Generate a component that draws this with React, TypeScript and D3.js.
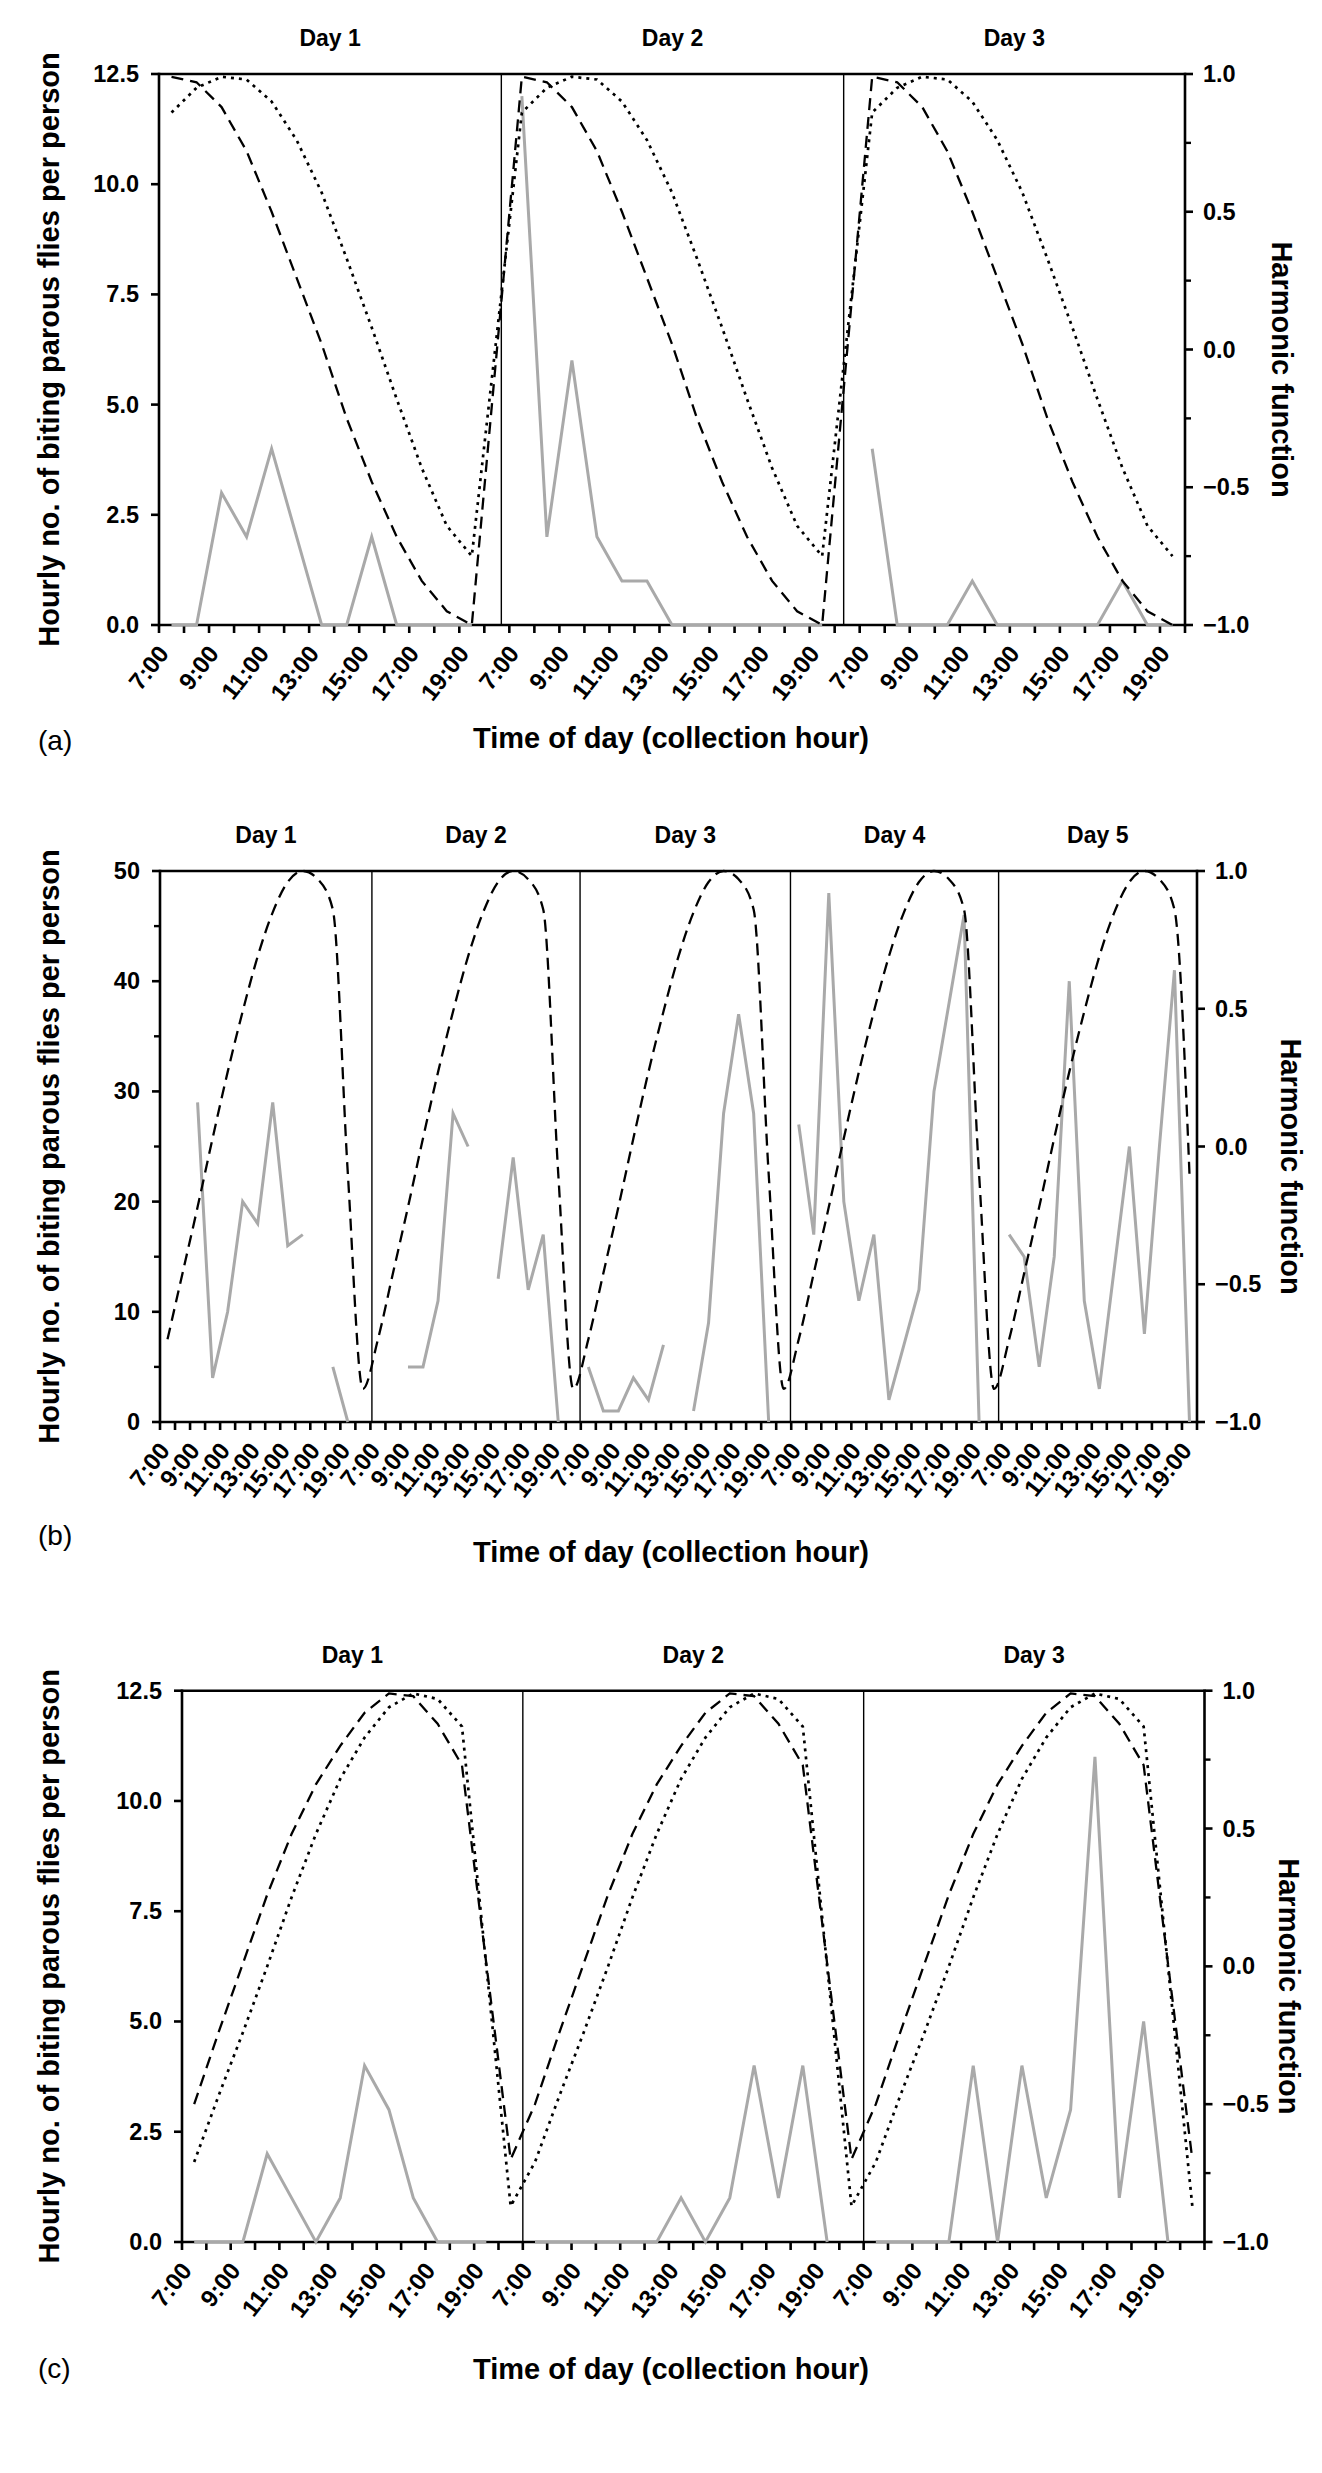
import React, { useEffect } from "react";
import * as d3 from "d3";

// ---- data ----
// each day: 13 hourly collections (7:00-8:00 ... 19:00-20:00), plotted at mid-hour
const daysA = ["Day 1", "Day 2", "Day 3"];
const fliesA: (number | null)[][] = [
  [0, 0, 3, 2, 4, 2, 0, 0, 2, 0, 0, 0, 0],
  [12, 2, 6, 2, 1, 1, 0, 0, 0, 0, 0, 0, 0],
  [4, 0, 0, 0, 1, 0, 0, 0, 0, 0, 1, 0, 0],
];
const harmDashA = [0.99, 0.97, 0.88, 0.72, 0.5, 0.26, 0.02, -0.25, -0.48, -0.68, -0.84, -0.95, -1.0];
const harmDotA = [0.86, 0.95, 0.99, 0.98, 0.9, 0.76, 0.57, 0.33, 0.08, -0.18, -0.43, -0.64, -0.75];

const daysB = ["Day 1", "Day 2", "Day 3", "Day 4", "Day 5"];
const fliesB: (number | null)[][] = [
  [null, null, 29, 4, 10, 20, 18, 29, 16, 17, null, 5, 0],
  [null, null, 5, 5, 11, 28, 25, null, 13, 24, 12, 17, 0],
  [5, 1, 1, 4, 2, 7, null, 1, 9, 28, 37, 28, 0],
  [27, 17, 48, 20, 11, 17, 2, 7, 12, 30, 38, 46, 0],
  [17, 15, 5, 15, 40, 11, 3, 14, 25, 8, 25, 41, 0],
];
const harmDashB = [-0.7, -0.46, -0.22, 0.03, 0.27, 0.49, 0.69, 0.85, 0.96, 1.0, 0.97, 0.86, -0.1, -0.88];

const daysC = ["Day 1", "Day 2", "Day 3"];
const fliesC: (number | null)[][] = [
  [0, 0, 0, 2, 1, 0, 1, 4, 3, 1, 0, 0, 0],
  [0, 0, 0, 0, 0, 0, 1, 0, 1, 4, 1, 4, 0],
  [0, 0, 0, 0, 4, 0, 4, 1, 3, 11, 1, 5, 0],
];
const harmDashC = [-0.5, -0.24, 0.01, 0.26, 0.48, 0.66, 0.8, 0.92, 0.99, 0.98, 0.88, 0.73, 0.01, -0.7];
const harmDotC = [-0.71, -0.47, -0.24, 0.0, 0.25, 0.48, 0.68, 0.83, 0.94, 0.99, 0.97, 0.87, 0.0, -0.87];

const countTicks125 = [0, 2.5, 5, 7.5, 10, 12.5];
const countTicks50 = [0, 10, 20, 30, 40, 50];
const countMinor50 = [5, 15, 25, 35, 45];
const harmTicks = [-1, -0.5, 0, 0.5, 1];
const harmMinor = [-0.75, -0.25, 0.25, 0.75];
const firstHour = 7;
const hoursPerDay = 14; // tick slots per day on the compressed axis

const FONT = "'Liberation Sans', Arial, Helvetica, sans-serif";

type Harm = { values: number[]; dash: string; width: number };
type PanelProps = {
  letter: string;
  left: number;
  right: number;
  top: number;
  bottom: number;
  xMax: number;
  dividers: number[];
  days: string[];
  flies: (number | null)[][];
  harmonics: Harm[];
  yMax: number;
  leftTicks: number[];
  leftMinor: number[];
  leftFmt: string;
  rightMinor: number[];
  smooth: boolean;
  dayY: number;
  titleY: number;
  letterY: number;
  rightLabelX: number;
};

function Panel(p: PanelProps) {
  const x = d3.scaleLinear().domain([0, p.xMax]).range([p.left, p.right]);
  const yL = d3.scaleLinear().domain([0, p.yMax]).range([p.bottom, p.top]);
  const yR = d3.scaleLinear().domain([-1, 1]).range([p.bottom, p.top]);
  const curve = p.smooth ? d3.curveMonotoneX : d3.curveLinear;

  const grayLine = d3
    .line<[number, number | null]>()
    .defined((d) => d[1] != null)
    .x((d) => x(d[0]))
    .y((d) => yL(d[1] as number));

  const harmLine = d3
    .line<[number, number]>()
    .x((d) => x(d[0]))
    .y((d) => yR(d[1]))
    .curve(curve);

  const ticks = d3.range(0, p.xMax + 1);
  const bounds = [0, ...p.dividers, p.xMax];
  const midY = (p.top + p.bottom) / 2;
  const fmtL = d3.format(p.leftFmt);
  const fmtR = d3.format(".1f");

  return (
    <g>
      {/* frame */}
      <line x1={p.left} x2={p.right} y1={p.top} y2={p.top} stroke="#000" strokeWidth={2.6} />
      <line x1={p.left} x2={p.right} y1={p.bottom} y2={p.bottom} stroke="#000" strokeWidth={2.6} />
      <line x1={p.left} x2={p.left} y1={p.top - 1.3} y2={p.bottom + 1.3} stroke="#000" strokeWidth={2.6} />
      <line x1={p.right} x2={p.right} y1={p.top - 1.3} y2={p.bottom + 1.3} stroke="#000" strokeWidth={2.6} />

      {/* day dividers */}
      {p.dividers.map((d, i) => (
        <line key={i} x1={x(d)} x2={x(d)} y1={p.top} y2={p.bottom} stroke="#000" strokeWidth={1.4} />
      ))}

      {/* x ticks + labels */}
      {ticks.map((t) => {
        const local = t % hoursPerDay;
        const day = Math.floor(t / hoursPerDay);
        const show = local % 2 === 0 && local <= 12 && day < p.days.length;
        return (
          <g key={t}>
            <line x1={x(t)} x2={x(t)} y1={p.bottom} y2={p.bottom + 8} stroke="#000" strokeWidth={2.6} />
            {show && (
              <text
                transform={`translate(${x(t) + 11},${p.bottom + 29}) rotate(-52)`}
                textAnchor="end"
                fontSize={24}
                fontWeight="bold"
                fontFamily={FONT}
              >
                {`${firstHour + local}:00`}
              </text>
            )}
          </g>
        );
      })}

      {/* left axis */}
      {p.leftTicks.map((v) => (
        <g key={v}>
          <line x1={p.left - 8} x2={p.left} y1={yL(v)} y2={yL(v)} stroke="#000" strokeWidth={2.6} />
          <text x={p.left - 20} y={yL(v) + 8} textAnchor="end" fontSize={23.5} fontWeight="bold" fontFamily={FONT}>
            {fmtL(v)}
          </text>
        </g>
      ))}
      {p.leftMinor.map((v) => (
        <line key={v} x1={p.left - 6} x2={p.left} y1={yL(v)} y2={yL(v)} stroke="#000" strokeWidth={2.4} />
      ))}

      {/* right axis */}
      {harmTicks.map((v) => (
        <g key={v}>
          <line x1={p.right} x2={p.right + 8} y1={yR(v)} y2={yR(v)} stroke="#000" strokeWidth={2.6} />
          <text x={p.right + 18} y={yR(v) + 8} textAnchor="start" fontSize={23.5} fontWeight="bold" fontFamily={FONT}>
            {fmtR(v)}
          </text>
        </g>
      ))}
      {p.rightMinor.map((v) => (
        <line key={v} x1={p.right} x2={p.right + 6} y1={yR(v)} y2={yR(v)} stroke="#000" strokeWidth={2.4} />
      ))}

      {/* observed counts */}
      {p.flies.map((vals, d) => (
        <path
          key={d}
          d={grayLine(vals.map((v, k) => [d * hoursPerDay + k + 0.5, v] as [number, number | null])) ?? undefined}
          fill="none"
          stroke="#a9a9a9"
          strokeWidth={3}
          strokeLinejoin="miter"
        />
      ))}

      {/* harmonic functions */}
      {p.harmonics.map((h, j) => {
        const pts: [number, number][] = [];
        p.days.forEach((_, d) => {
          h.values.forEach((v, k) => {
            const pos = d * hoursPerDay + k + 0.5;
            if (pos <= p.xMax) pts.push([pos, v]);
          });
        });
        return (
          <path
            key={j}
            d={harmLine(pts) ?? undefined}
            fill="none"
            stroke="#000"
            strokeWidth={h.width}
            strokeDasharray={h.dash}
          />
        );
      })}

      {/* day labels */}
      {p.days.map((label, i) => (
        <text
          key={label}
          x={x((bounds[i] + bounds[i + 1]) / 2)}
          y={p.dayY}
          textAnchor="middle"
          fontSize={23}
          fontWeight="bold"
          fontFamily={FONT}
        >
          {label}
        </text>
      ))}

      {/* axis titles */}
      <text
        transform={`translate(59,${midY}) rotate(-90)`}
        textAnchor="middle"
        fontSize={29}
        fontWeight="bold"
        fontFamily={FONT}
      >
        Hourly no. of biting parous flies per person
      </text>
      <text
        transform={`translate(${p.rightLabelX},${midY + 20}) rotate(90)`}
        textAnchor="middle"
        fontSize={29}
        fontWeight="bold"
        fontFamily={FONT}
      >
        Harmonic function
      </text>
      <text x={671} y={p.titleY} textAnchor="middle" fontSize={29} fontWeight="bold" fontFamily={FONT}>
        Time of day (collection hour)
      </text>
      <text x={38} y={p.letterY} fontSize={28} fontFamily={FONT}>
        {p.letter}
      </text>
    </g>
  );
}

export default function App() {
  useEffect(() => {
    document.body.style.margin = "0";
  }, []);

  const dash = "12 7";
  const dot = "3 5";

  return (
    <svg
      width={1322}
      height={2473}
      viewBox="0 0 1322 2473"
      style={{ display: "block", position: "absolute", left: 0, top: 0, background: "#fff" }}
    >
      <rect x={0} y={0} width={1322} height={2473} fill="#fff" />
      <Panel
        letter="(a)"
        left={159}
        right={1185}
        top={74}
        bottom={625}
        xMax={41}
        dividers={[13.68, 27.36]}
        days={daysA}
        flies={fliesA}
        harmonics={[
          { values: harmDashA, dash, width: 2.3 },
          { values: harmDotA, dash: dot, width: 2.7 },
        ]}
        yMax={12.5}
        leftTicks={countTicks125}
        leftMinor={[]}
        leftFmt=".1f"
        rightMinor={harmMinor}
        smooth={false}
        dayY={46}
        titleY={748}
        letterY={750}
        rightLabelX={1272}
      />
      <Panel
        letter="(b)"
        left={160}
        right={1197}
        top={871}
        bottom={1422}
        xMax={69}
        dividers={[14.1, 27.95, 41.95, 55.8]}
        days={daysB}
        flies={fliesB}
        harmonics={[{ values: harmDashB, dash, width: 2.3 }]}
        yMax={50}
        leftTicks={countTicks50}
        leftMinor={countMinor50}
        leftFmt="d"
        rightMinor={[]}
        smooth={true}
        dayY={843}
        titleY={1562}
        letterY={1545}
        rightLabelX={1281}
      />
      <Panel
        letter="(c)"
        left={182}
        right={1204.5}
        top={1690.7}
        bottom={2242}
        xMax={42}
        dividers={[14, 28]}
        days={daysC}
        flies={fliesC}
        harmonics={[
          { values: harmDashC, dash, width: 2.3 },
          { values: harmDotC, dash: dot, width: 2.7 },
        ]}
        yMax={12.5}
        leftTicks={countTicks125}
        leftMinor={[]}
        leftFmt=".1f"
        rightMinor={harmMinor}
        smooth={false}
        dayY={1663}
        titleY={2379}
        letterY={2378}
        rightLabelX={1279}
      />
    </svg>
  );
}
